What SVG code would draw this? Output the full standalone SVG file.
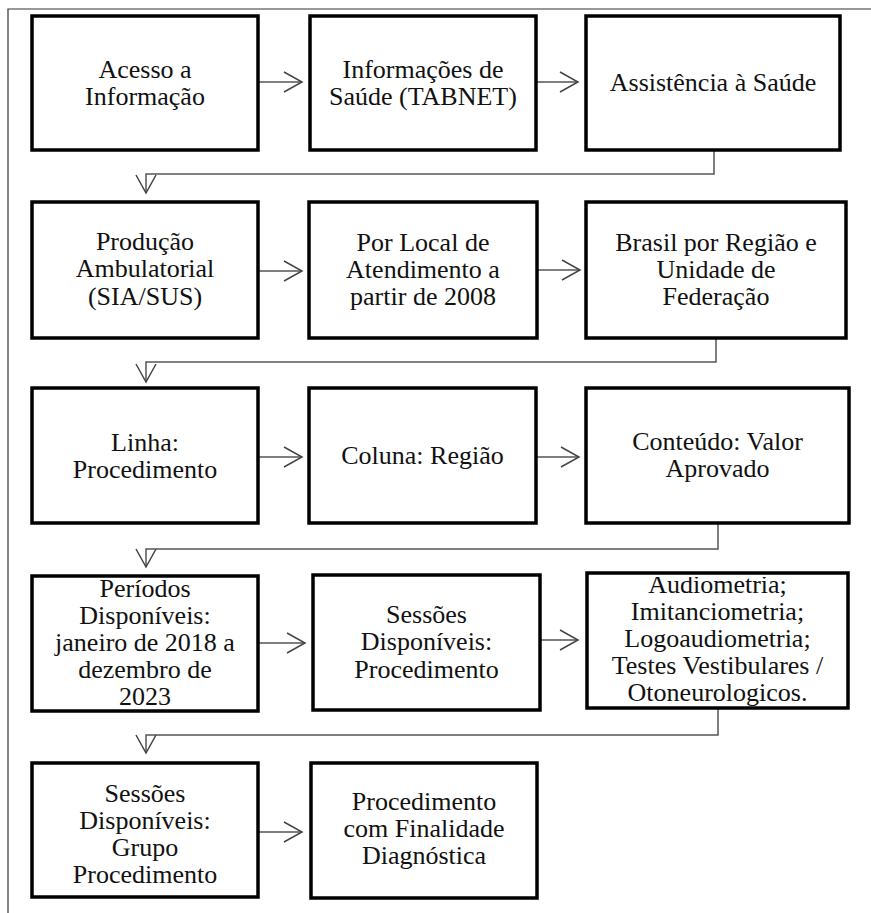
<svg xmlns="http://www.w3.org/2000/svg" width="871" height="913" viewBox="0 0 871 913">
<style>
.box{fill:#fff;stroke:#000;stroke-width:3.5}
.t{font-family:"Liberation Serif","Times New Roman","DejaVu Serif",serif;font-size:26px;fill:#111;text-anchor:middle}
.conn{fill:none;stroke:#555;stroke-width:1.5}
.frame{fill:none;stroke:#333;stroke-width:1.2}
</style>
<defs>
<marker id="arr" markerUnits="userSpaceOnUse" viewBox="-1 -1 20 22" refX="18" refY="10" markerWidth="20" markerHeight="22" orient="auto" overflow="visible">
<path d="M0,0 L18,10 L0,20" fill="none" stroke="#444" stroke-width="1.5"/>
</marker>
<clipPath id="clip12"><rect x="589" y="577" width="257" height="129"/></clipPath>
</defs>
<rect width="871" height="913" fill="#fff"/>
<path class="frame" d="M871,9 H8 V913"/>
<g id="connectors">
<path class="conn" d="M258,82 H302" marker-end="url(#arr)"/>
<path class="conn" d="M536,82 H578" marker-end="url(#arr)"/>
<path class="conn" d="M258,271 H302" marker-end="url(#arr)"/>
<path class="conn" d="M537,270 H580" marker-end="url(#arr)"/>
<path class="conn" d="M258,457 H302" marker-end="url(#arr)"/>
<path class="conn" d="M536,457 H579" marker-end="url(#arr)"/>
<path class="conn" d="M258,643 H305" marker-end="url(#arr)"/>
<path class="conn" d="M540,640 H578" marker-end="url(#arr)"/>
<path class="conn" d="M258,832 H302" marker-end="url(#arr)"/>
<path class="conn" d="M714,150 V174 H146 V193" marker-end="url(#arr)"/>
<path class="conn" d="M716,338 V362 H146 V382" marker-end="url(#arr)"/>
<path class="conn" d="M718,523 V549 H146 V567" marker-end="url(#arr)"/>
<path class="conn" d="M718,708 V735 H146 V753" marker-end="url(#arr)"/>
</g>
<g id="n1"><rect class="box" x="32" y="16" width="226" height="134"/>
<text class="t" x="145" y="78">Acesso a</text><text class="t" x="145" y="105">Informação</text></g>
<g id="n2"><rect class="box" x="310" y="16" width="226" height="134"/>
<text class="t" x="423" y="78">Informações de</text><text class="t" x="423" y="105">Saúde (TABNET)</text></g>
<g id="n3"><rect class="box" x="586" y="16" width="254" height="134"/>
<text class="t" x="713" y="91">Assistência à Saúde</text></g>
<g id="n4"><rect class="box" x="32" y="202" width="226" height="136"/>
<text class="t" x="145" y="250">Produção</text><text class="t" x="145" y="277">Ambulatorial</text><text class="t" x="145" y="305">(SIA/SUS)</text></g>
<g id="n5"><rect class="box" x="309" y="202" width="228" height="136"/>
<text class="t" x="423" y="251">Por Local de</text><text class="t" x="423" y="278">Atendimento a</text><text class="t" x="423" y="305">partir de 2008</text></g>
<g id="n6"><rect class="box" x="586" y="202" width="260" height="136"/>
<text class="t" x="716" y="251">Brasil por Região e</text><text class="t" x="716" y="278">Unidade de</text><text class="t" x="716" y="305">Federação</text></g>
<g id="n7"><rect class="box" x="32" y="388" width="226" height="135"/>
<text class="t" x="145" y="451">Linha:</text><text class="t" x="145" y="478">Procedimento</text></g>
<g id="n8"><rect class="box" x="309" y="388" width="227" height="135"/>
<text class="t" x="422.5" y="464">Coluna: Região</text></g>
<g id="n9"><rect class="box" x="586" y="388" width="263" height="135"/>
<text class="t" x="717.5" y="450">Conteúdo: Valor</text><text class="t" x="717.5" y="477">Aprovado</text></g>
<g id="n10"><rect class="box" x="32" y="576" width="226" height="135"/>
<text class="t" x="145" y="597">Períodos</text><text class="t" x="145" y="624">Disponíveis:</text><text class="t" x="145" y="651">janeiro de 2018 a</text><text class="t" x="145" y="678">dezembro de</text><text class="t" x="145" y="705">2023</text></g>
<g id="n11"><rect class="box" x="313" y="575" width="227" height="135"/>
<text class="t" x="426.5" y="623">Sessões</text><text class="t" x="426.5" y="650">Disponíveis:</text><text class="t" x="426.5" y="678">Procedimento</text></g>
<g id="n12"><rect class="box" x="587" y="573" width="261" height="135"/>
<g clip-path="url(#clip12)"><text class="t" x="717.5" y="593">Audiometria;</text><text class="t" x="717.5" y="620">Imitanciometria;</text><text class="t" x="717.5" y="647">Logoaudiometria;</text><text class="t" x="717.5" y="674">Testes Vestibulares /</text><text class="t" x="717.5" y="701">Otoneurologicos.</text></g></g>
<g id="n13"><rect class="box" x="32" y="763" width="226" height="134"/>
<text class="t" x="145" y="802">Sessões</text><text class="t" x="145" y="829">Disponíveis:</text><text class="t" x="145" y="856">Grupo</text><text class="t" x="145" y="883">Procedimento</text></g>
<g id="n14"><rect class="box" x="311" y="763" width="226" height="135"/>
<text class="t" x="424" y="810">Procedimento</text><text class="t" x="424" y="837">com Finalidade</text><text class="t" x="424" y="864">Diagnóstica</text></g>
</svg>
